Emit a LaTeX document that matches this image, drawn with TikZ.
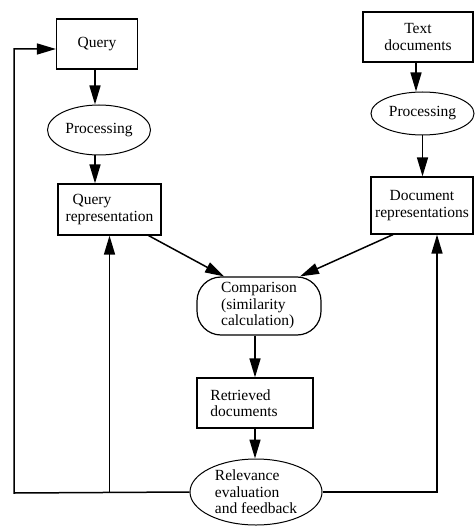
\documentclass[tikz,border=0pt]{standalone}
\usepackage{fontspec}
\setmainfont{Liberation Serif}
\usetikzlibrary{arrows.meta,shapes.geometric,calc}
\begin{document}
\begin{tikzpicture}[x=1pt,y=-1pt,
  every node/.style={font=\fontsize{15.5}{16.5}\selectfont, inner sep=0pt},
  boxnode/.style={draw, line width=1.2pt, rectangle},
  ellnode/.style={draw, line width=1pt, ellipse},
  roundnode/.style={draw, line width=1.2pt, rectangle, rounded corners=24pt},
  arr/.style={line width=1.5pt, -{Triangle[length=19pt,width=11pt]}},
  ln/.style={line width=1.5pt}]
\useasboundingbox (0,0) rectangle (475,526);
\node[boxnode, minimum width=81pt, minimum height=50pt] (query) at (97,44) {Query};
\node[ellnode, minimum width=103pt, minimum height=50pt] (proc1) at (99,130) {Processing};
\node[boxnode, minimum width=103pt, minimum height=51pt, align=left] (qrep) at (109.5,209.5) {\hspace*{7pt}Query\\representation};
\node[boxnode, minimum width=110pt, minimum height=50pt, align=center] (text) at (418,37) {Text\\documents};
\node[ellnode, minimum width=103pt, minimum height=43pt] (proc2) at (422.5,113.5) {Processing};
\node[boxnode, minimum width=102pt, minimum height=57pt, align=center] (drep) at (422,205.5) {Document\\representations};
\node[roundnode, minimum width=124pt, minimum height=58pt, align=left] (comp) at (259,306) {Comparison\\(similarity\\calculation)};
\node[boxnode, minimum width=116pt, minimum height=50pt, align=left] (retr) at (255,403) {\hspace*{-22pt}Retrieved\\\hspace*{-22pt}documents};
\node[ellnode, minimum width=132pt, minimum height=66pt, align=left] (rel) at (256,492) {Relevance\\evaluation\\and feedback};
\coordinate (L) at (14,493);
\draw[arr] ([xshift=-2pt]query.south) -- ([xshift=-2pt]query.south |- proc1.north);
\draw[arr] ([xshift=-4pt]proc1.south) -- ([xshift=-4pt]proc1.south |- qrep.north);
\draw[arr] ([xshift=-2pt]text.south) -- ([xshift=-2pt]text.south |- proc2.north);
\draw[arr] (proc2.south) -- (proc2.south |- drep.north);
\draw[arr] ([xshift=-13pt]qrep.south east) -- ([xshift=-35pt]comp.north);
\draw[arr] ([xshift=-29pt]drep.south) -- ([xshift=41pt]comp.north);
\draw[arr] ([xshift=-4pt]comp.south) -- ([xshift=-4pt]comp.south |- retr.north);
\draw[arr] (retr.south) -- (retr.south |- rel.north);
\draw[arr] (rel.west) -- (L) |- ([yshift=-5pt]query.west);
\draw[arr] (qrep.south |- rel.west) -- (qrep.south);
\draw[arr] (rel.east) -| ([xshift=15pt]drep.south);
\end{tikzpicture}
\end{document}
